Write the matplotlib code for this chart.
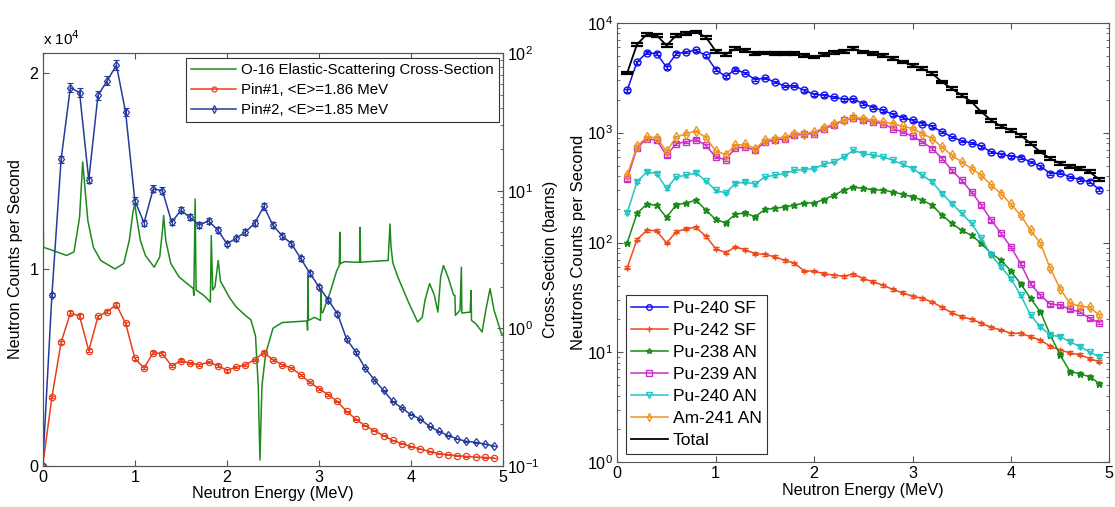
import numpy as np
import matplotlib
matplotlib.use('Agg')
import matplotlib.pyplot as plt
from matplotlib.ticker import LogLocator, NullFormatter

plt.rcParams['font.family'] = ['Liberation Sans', 'DejaVu Sans']

# ---------------- Left panel data ----------------
E_pin = [round(0.1 * i, 1) for i in range(50)]
pin1 = [0, 3490, 6290, 7760, 7630, 5860, 7600, 7850, 8190, 7250,
        5470, 4970, 5760, 5700, 5080, 5350, 5220, 5140, 5270, 5100,
        4850, 5020, 5140, 5390, 5760, 5390, 5140, 4970, 4630, 4240,
        3920, 3610, 3270, 2760, 2370, 2030, 1780, 1530, 1290, 1120,
        980, 850, 730, 610, 560, 510, 470, 440, 420, 390]
pin2 = [0, 8700, 15600, 19250, 19000, 14550, 18860, 19600, 20400, 18000,
        13500, 12370, 14100, 14000, 12400, 13000, 12640, 12250, 12470, 12000,
        11300, 11580, 11900, 12340, 13200, 12240, 11700, 11300, 10560, 9800,
        9100, 8440, 7730, 6440, 5780, 4970, 4370, 3830, 3270, 2930,
        2590, 2370, 2000, 1750, 1540, 1360, 1240, 1190, 1100, 1000]

cs_E = [0.0, 0.008, 0.1, 0.26, 0.34, 0.40, 0.427, 0.434, 0.458, 0.49, 0.55,
        0.63, 0.785, 0.88, 0.94, 0.98, 1.0, 1.02, 1.06, 1.115, 1.21, 1.27,
        1.30, 1.313, 1.336, 1.39, 1.48, 1.635, 1.64, 1.655, 1.665, 1.75,
        1.82, 1.83, 1.845, 1.87, 1.905, 1.93, 2.03, 2.1, 2.2, 2.26, 2.31,
        2.34, 2.358, 2.38, 2.42, 2.5, 2.6, 2.87, 2.875, 2.88, 2.885, 2.95,
        3.015, 3.02, 3.025, 3.04, 3.12, 3.19, 3.22, 3.225, 3.23, 3.25, 3.28,
        3.4, 3.44, 3.445, 3.45, 3.6, 3.75, 3.77, 3.78, 3.8, 3.855, 3.97,
        4.07, 4.12, 4.15, 4.2, 4.25, 4.29, 4.32, 4.35, 4.4, 4.46, 4.475,
        4.48, 4.53, 4.545, 4.55, 4.64, 4.65, 4.655, 4.7, 4.77, 4.81, 4.856,
        4.9, 4.98, 5.0]
cs_val = [55, 3.88, 3.7, 3.38, 3.6, 6.4, 13.2, 16.2, 10.6, 6.07, 3.88,
          3.11, 2.7, 2.96, 4.35, 7.0, 8.0, 6.4, 4.35, 3.38, 2.78, 3.3,
          5.13, 6.6, 4.35, 2.96, 2.36, 1.94, 1.73, 8.7, 1.9, 1.73,
          1.55, 4.72, 1.9, 2.0, 3.11, 2.2, 1.66, 1.43, 1.24, 1.15, 0.88,
          0.38, 0.11, 0.38, 0.65, 1.0, 1.1, 1.13, 0.97, 2.42, 1.14, 1.2,
          1.14, 1.88, 1.3, 1.3, 1.82, 2.6, 2.86, 4.99, 2.94, 3.0, 3.05,
          3.02, 3.02, 5.42, 3.02, 3.07, 3.11, 5.73, 4.0, 3.0, 2.36, 1.55,
          1.11, 1.2, 1.6, 2.11, 1.75, 1.31, 2.36, 2.86, 2.36, 1.75, 1.73,
          1.24, 1.35, 2.78, 1.29, 1.31, 1.88, 1.14, 1.08, 0.94, 1.35, 1.94,
          1.35, 0.91, 0.91]

# ---------------- Right panel data ----------------
E_src = [round(0.1 * i, 1) for i in range(1, 50)]
pu240_sf = [2425, 4385, 5335, 5225, 3947, 5225, 5410, 5600, 5045, 3740,
            3250, 3740, 3485, 3035, 3140, 2890, 2657, 2657, 2425, 2230,
            2185, 2108, 2010, 2009, 1836, 1688, 1595, 1467, 1368, 1294,
            1207, 1141, 1013, 913, 839, 805, 751, 666, 635, 609,
            593, 541, 494, 424, 430, 395, 374, 356, 303]
pu242_sf = [59, 106, 129, 128, 99, 125, 134, 137, 114, 88,
            81, 91, 86, 79, 78, 74, 69, 65, 55, 55,
            52, 50.5, 49.4, 51.5, 47, 43.9, 40.9, 37.4, 34.8, 32.5,
            31, 28.8, 25.7, 22.9, 21.1, 20, 18.4, 16.9, 16, 14.9,
            14.9, 13.9, 12.9, 11.4, 10.5, 9.9, 9.5, 8.8, 8.2]
pu238_an = [99, 184, 223, 218, 169, 221, 229, 243, 197, 162,
            151, 181, 186, 171, 200, 204, 211, 218, 229, 229,
            246, 269, 299, 320, 310, 303, 299, 288, 275, 260,
            243, 218, 177, 149, 129, 116, 98, 79.4, 69, 55,
            42, 31, 23.4, 14.4, 9.5, 6.7, 6.4, 6.0, 5.2]
pu239_an = [376, 725, 881, 851, 622, 794, 822, 863, 767, 600,
            567, 725, 740, 690, 822, 851, 881, 946, 966, 979,
            1087, 1164, 1295, 1368, 1295, 1250, 1208, 1087, 1013, 925,
            822, 716, 581, 454, 368, 288, 218, 160, 121, 91,
            64, 42, 33, 27.5, 26.9, 24.6, 23.4, 20.4, 18.6]
pu240_an = [186, 356, 439, 424, 310, 395, 409, 430, 363, 299,
            282, 344, 356, 339, 395, 409, 424, 454, 460, 471,
            515, 541, 600, 690, 644, 622, 600, 560, 515, 471,
            409, 356, 279, 226, 184, 149, 109, 76.7, 60, 47,
            33, 21.8, 17.1, 14.4, 13.9, 12.5, 11.3, 10.1, 9.1]
am241_an = [409, 750, 912, 900, 676, 912, 979, 1035, 900, 681,
            631, 767, 783, 716, 851, 881, 912, 979, 979, 1013,
            1111, 1208, 1295, 1388, 1340, 1295, 1250, 1208, 1141, 1087,
            979, 881, 740, 622, 541, 471, 409, 332, 279, 223,
            177, 129, 98, 58, 38, 27.9, 26.4, 25.7, 21.8]
total = [3485, 6350, 7830, 7670, 6220, 7670, 7950, 8230, 7400, 5520,
         5150, 5800, 5600, 5225, 5300, 5225, 5225, 5225, 5045, 4875,
         5130, 5335, 5480, 5800, 5410, 5230, 5050, 4710, 4390, 4090,
         3820, 3440, 2890, 2510, 2185, 1900, 1540, 1294, 1141, 1050,
         945, 794, 667, 581, 523, 488, 471, 439, 374]

W, H = 1115, 507
fig = plt.figure(figsize=(W / 100, H / 100), dpi=100)

spine_col = '#555555'
FS = 11.6

def style_axes(ax):
    for s in ax.spines.values():
        s.set_color(spine_col)
        s.set_linewidth(0.8)
    ax.tick_params(direction='in', colors=spine_col, labelcolor='black',
                   labelsize=FS, length=4, pad=3)
    ax.tick_params(which='minor', direction='in', colors=spine_col, length=2.5)

# ---------------- Left panel ----------------
ax1 = fig.add_axes([42.7 / W, (H - 465.7) / H, (503.3 - 42.7) / W, (465.7 - 53.3) / H])
ax2 = ax1.twinx()
ax1.set_zorder(ax2.get_zorder() + 1)
ax1.patch.set_visible(False)

c_green = '#1e8a1e'
c_red = '#e8401c'
c_navy = '#263c9c'

lg, = ax2.plot(cs_E, cs_val, color=c_green, lw=1.1,
               label='O-16 Elastic-Scattering Cross-Section')
ax2.set_yscale('log')
ax2.set_ylim(0.1, 100)
ax2.set_ylabel('Cross-Section (barns)', fontsize=FS, labelpad=2)

p1 = np.array(pin1, dtype=float)
p2 = np.array(pin2, dtype=float)
ax1.errorbar(E_pin, p1, yerr=0.012 * p1, fmt='none', ecolor=c_red,
             capsize=2.5, elinewidth=0.8, capthick=0.8)
ax1.errorbar(E_pin, p2, yerr=0.012 * p2, fmt='none', ecolor=c_navy,
             capsize=2.5, elinewidth=0.8, capthick=0.8)
l1, = ax1.plot(E_pin, p1, color=c_red, lw=1.1, marker='o', ms=4.5,
               mfc='none', mew=0.9, label='Pin#1, <E>=1.86 MeV')
l2, = ax1.plot(E_pin, p2, color=c_navy, lw=1.1, marker='d', ms=4.5,
               mfc='none', mew=0.9, label='Pin#2, <E>=1.85 MeV')
ax1.set_xlim(0, 5)
ax1.set_ylim(0, 21000)
ax1.set_yticks([0, 10000, 20000])
ax1.set_yticklabels(['0', '1', '2'])
ax1.set_xticks([0, 1, 2, 3, 4, 5])
ax1.set_xlabel('Neutron Energy (MeV)', fontsize=FS, labelpad=1)
ax1.set_ylabel('Neutron Counts per Second', fontsize=FS, labelpad=5)
ax1.text(0.0, 1.012, r'x 10$^4$', transform=ax1.transAxes, fontsize=FS - 0.6,
         ha='left', va='bottom')
style_axes(ax1)
style_axes(ax2)
ax1.tick_params(top=True, right=False)
ax2.tick_params(which='both', right=True)
ax2.yaxis.set_major_locator(LogLocator(base=10, numticks=10))
ax2.yaxis.set_minor_locator(LogLocator(base=10, subs=np.arange(2, 10), numticks=10))
ax2.yaxis.set_minor_formatter(NullFormatter())

leg1 = ax1.legend(handles=[lg, l1, l2], loc='upper right', fontsize=10.8,
                  frameon=True, fancybox=False, framealpha=1,
                  edgecolor='#333333', borderaxespad=0.3, handlelength=3.0,
                  handletextpad=0.3, labelspacing=0.4, borderpad=0.35,
                  markerscale=0.8)
leg1.get_frame().set_linewidth(0.8)

# ---------------- Right panel ----------------
ax3 = fig.add_axes([617.3 / W, (H - 462.3) / H, (1109.3 - 617.3) / W, (462.3 - 22.7) / H])

series = [
    ('Pu-240 SF', pu240_sf, '#1010f0', 'o'),
    ('Pu-242 SF', pu242_sf, '#ee4a1a', '+'),
    ('Pu-238 AN', pu238_an, '#1a8a1a', '*'),
    ('Pu-239 AN', pu239_an, '#cc30cc', 's'),
    ('Pu-240 AN', pu240_an, '#22c4c4', 'v'),
    ('Am-241 AN', am241_an, '#ee9420', 'd'),
]
handles = []
for name, vals, col, mk in series:
    v = np.array(vals, dtype=float)
    ax3.errorbar(E_src, v, yerr=0.03 * v, fmt='none', ecolor=col,
                 capsize=2.5, elinewidth=0.9, capthick=0.9)
    h, = ax3.plot(E_src, v, color=col, lw=1.1, marker=mk, ms=5,
                  mfc='none', mew=1.0, label=name)
    handles.append(h)
tv = np.array(total, dtype=float)
ax3.errorbar(E_src, tv, yerr=0.03 * tv, fmt='none', ecolor='black',
             capsize=4.5, elinewidth=1.0, capthick=1.6)
ht, = ax3.plot(E_src, tv, color='black', lw=1.3, label='Total')
handles.append(ht)

ax3.set_yscale('log')
ax3.set_xlim(0, 5)
ax3.set_ylim(1, 1e4)
ax3.set_xticks([0, 1, 2, 3, 4, 5])
ax3.yaxis.set_major_locator(LogLocator(base=10, numticks=10))
ax3.yaxis.set_minor_locator(LogLocator(base=10, subs=np.arange(2, 10), numticks=10))
ax3.yaxis.set_minor_formatter(NullFormatter())
ax3.set_xlabel('Neutron Energy (MeV)', fontsize=FS, labelpad=1)
ax3.set_ylabel('Neutrons Counts per Second', fontsize=FS + 0.4, labelpad=1)
style_axes(ax3)
ax3.tick_params(which='both', top=True, right=True)

leg3 = ax3.legend(handles=handles, loc='lower left', fontsize=12.5,
                  frameon=True, fancybox=False, framealpha=1,
                  edgecolor='#333333', borderaxespad=0.5, handlelength=2.1,
                  handletextpad=0.3, labelspacing=0.4, borderpad=0.3,
                  markerscale=0.8)
leg3.get_frame().set_linewidth(0.8)

fig.savefig('out.png', dpi=100)
